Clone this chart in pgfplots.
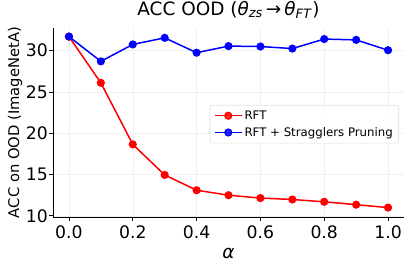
\documentclass[border=0pt]{standalone}
\usepackage{fontspec}
\setmainfont{DejaVu Sans}
\usepackage{pgfplots}
\pgfplotsset{compat=1.18}
\begin{document}
\begin{tikzpicture}
\useasboundingbox (-53bp,-54bp) rectangle (358bp,217bp);
\begin{axis}[
  at={(0,0)}, anchor=south west,
  scale only axis, width=351bp, height=189bp,
  xmin=-0.05, xmax=1.05, ymin=9.86, ymax=32.74,
  axis lines=left, axis line style={-, line width=0.8bp},
  tick align=outside, major tick length=4bp,
  tick style={black, line width=0.8bp},
  xtick={0,0.2,0.4,0.6,0.8,1.0}, ytick={10,15,20,25,30},
  /pgf/number format/assume math mode=true,
  tick label style={font=\fontsize{17.3}{17}\selectfont, inner sep=0pt},
  xticklabel style={/pgf/number format/fixed, /pgf/number format/fixed zerofill, /pgf/number format/precision=1, yshift=-5bp},
  yticklabel style={xshift=-1bp},
  grid=major, major grid style={gray!12, line width=0.5bp},
  title={ACC OOD (\textit{θ}\textsubscript{\textit{zs}}\,→\,\textit{θ}\textsubscript{\textit{FT}})},
  title style={at={(axis description cs:0.5,1.037)}, anchor=base, font=\fontsize{18.5}{20}\selectfont, inner sep=0pt},
  xlabel={\textit{α}},
  xlabel style={at={(axis description cs:0.5,-0.217)}, anchor=base, font=\fontsize{18.5}{20}\selectfont, inner sep=0pt},
  ylabel={ACC on OOD (ImageNetA)},
  ylabel style={at={(axis description cs:-0.108,0.5)}, anchor=center, font=\fontsize{14.8}{16}\selectfont, inner sep=0pt},
  legend style={at={(axis description cs:0.986,0.593)}, anchor=north east,
    font=\fontsize{11.8}{14}\selectfont, draw=gray!25, line width=0.6bp, rounded corners=2bp,
    fill=white, fill opacity=0.8, text opacity=1, inner xsep=4bp, inner ysep=3.5bp,
    row sep=2.5bp},
  legend cell align=left,
  legend image code/.code={\draw[mark repeat=2,mark phase=2] plot coordinates {(0bp,0bp)(13.5bp,0bp)(27bp,0bp)};},
]
\addplot[red, line width=1.5bp, mark=*, mark size=3.3bp] coordinates {
  (0.0,31.7) (0.1,26.1) (0.2,18.65) (0.3,14.95) (0.4,13.1) (0.5,12.5)
  (0.6,12.15) (0.7,11.98) (0.8,11.7) (0.9,11.35) (1.0,11.0)};
\addlegendentry{RFT}
\addplot[blue, line width=1.5bp, mark=*, mark size=3.3bp] coordinates {
  (0.0,31.7) (0.1,28.7) (0.2,30.75) (0.3,31.55) (0.4,29.75) (0.5,30.55)
  (0.6,30.5) (0.7,30.25) (0.8,31.4) (0.9,31.3) (1.0,30.05)};
\addlegendentry{RFT + Stragglers Pruning}
\end{axis}
\end{tikzpicture}
\end{document}
